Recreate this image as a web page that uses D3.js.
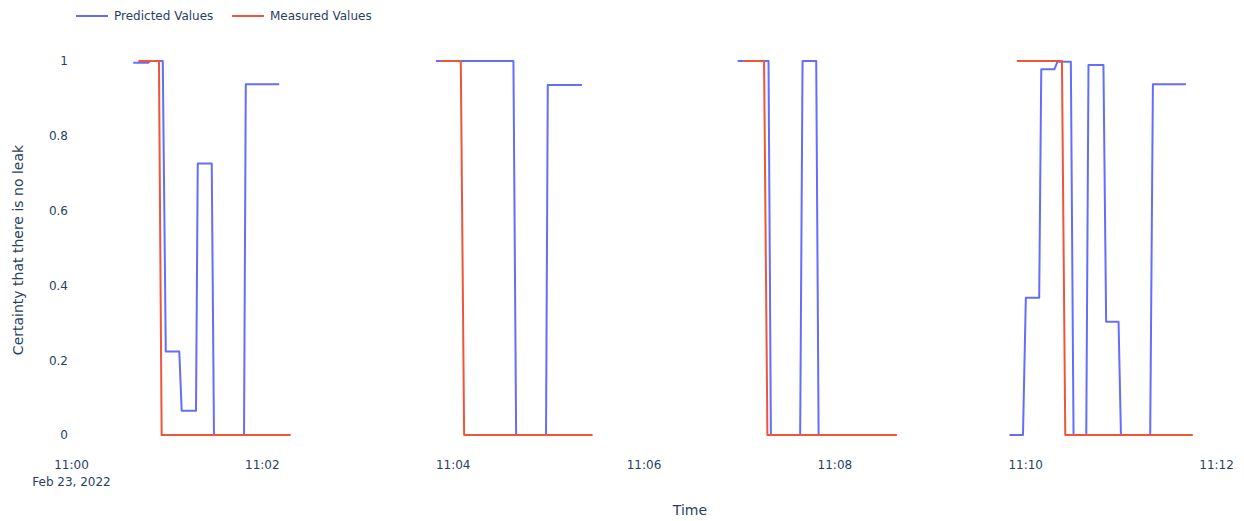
<!DOCTYPE html>
<html>
<head>
<meta charset="utf-8">
<script src="https://cdn.jsdelivr.net/npm/d3@7"></script>
<style>
  html, body { margin: 0; padding: 0; background: #fff; }
  svg { display: block; }
  text { font-family: "DejaVu Sans", Verdana, sans-serif; fill: #2a3f5f; }
</style>
</head>
<body>
<svg id="chart" width="1244" height="521"></svg>
<script>
// ---- Data ----
const seriesNames = ["Predicted Values", "Measured Values"];
const seriesColors = ["#636efa", "#EF553B"];

const predictedTimes = [
  "11:00:39.6","11:00:48.4","11:00:50.0","11:00:57.7","11:00:59.6","11:01:08.1","11:01:09.6","11:01:18.6","11:01:19.7","11:01:28.5","11:01:29.9","11:01:48.8","11:01:49.9","11:02:10.4", null,
  "11:03:50.0","11:04:38.2","11:04:39.9","11:04:58.7","11:04:59.8","11:05:20.8", null,
  "11:06:59.7","11:07:18.6","11:07:20.1","11:07:38.5","11:07:40.0","11:07:48.6","11:07:50.1","11:08:32.0", null,
  "11:09:50.6","11:09:58.6","11:10:00.4","11:10:08.8","11:10:10.1","11:10:18.4","11:10:20.3","11:10:28.7","11:10:30.4","11:10:38.4","11:10:39.8","11:10:49.2","11:10:50.9","11:10:58.7","11:11:00.2","11:11:18.6","11:11:20.3","11:11:40.6"
];
const predictedValues = [
  0.995,0.995,1,1,0.223,0.223,0.065,0.065,0.726,0.726,0,0,0.938,0.938, null,
  1,1,0,0,0.936,0.936, null,
  1,1,0,0,1,1,0,0, null,
  0,0,0.367,0.367,0.978,0.978,0.998,0.998,0,0,0.989,0.989,0.303,0.303,0,0,0.938,0.938
];

const measuredTimes = [
  "11:00:42.8","11:00:55.3","11:00:57.0","11:02:17.7", null,
  "11:03:53.1","11:04:05.1","11:04:07.2","11:05:27.5", null,
  "11:07:03.9","11:07:15.8","11:07:17.9","11:08:38.9", null,
  "11:09:55.2","11:10:23.1","11:10:25.2","11:11:44.9"
];
const measuredValues = [
  1,1,0,0, null,
  1,1,0,0, null,
  1,1,0,0, null,
  1,1,0,0
];

const xTickTimes = ["11:00:00","11:02:00","11:04:00","11:06:00","11:08:00","11:10:00","11:12:00"];
const xTickLabels = ["11:00","11:02","11:04","11:06","11:08","11:10","11:12"];
const xTickSubLabel = "Feb 23, 2022";
const yTickValues = [0, 0.2, 0.4, 0.6, 0.8, 1];
const yTickLabels = ["0", "0.2", "0.4", "0.6", "0.8", "1"];
const xTitle = "Time";
const yTitle = "Certainty that there is no leak";
const xDomain = ["11:00:00", "11:13:00"];

// ---- Helpers ----
function parseT(s) {
  if (s === null) return null;
  const [h, m, sec] = s.split(":");
  const secs = parseFloat(sec);
  const whole = Math.floor(secs);
  const ms = Math.round((secs - whole) * 1000);
  return new Date(2022, 1, 23, +h, +m, whole, ms);
}

// ---- Layout ----
const svg = d3.select("#chart");
const left = 71, pxPerMin = 95.42;
const x = d3.scaleTime()
  .domain(xDomain.map(parseT))
  .range([left, left + 13 * pxPerMin]);
const y = d3.scaleLinear().domain([0, 1]).range([435, 61]);

// X axis
const xAxis = svg.append("g")
  .attr("transform", "translate(0,460)")
  .call(d3.axisBottom(x)
    .tickValues(xTickTimes.map(parseT))
    .tickFormat((d, i) => xTickLabels[i])
    .tickSize(0).tickPadding(0));
xAxis.select(".domain").remove();
xAxis.selectAll("text").style("font-size", "12px").attr("font-family", null);
xAxis.selectAll(".tick").filter((d, i) => i === 0)
  .append("text")
  .attr("y", 0).attr("dy", "2.13em")
  .attr("text-anchor", "middle")
  .style("font-size", "12px")
  .text(xTickSubLabel);

// Y axis
const yAxis = svg.append("g")
  .attr("transform", `translate(${left},0)`)
  .call(d3.axisLeft(y)
    .tickValues(yTickValues)
    .tickFormat((d, i) => yTickLabels[i])
    .tickSize(0).tickPadding(3));
yAxis.select(".domain").remove();
yAxis.selectAll("text").style("font-size", "12px");

// Titles
svg.append("text")
  .attr("x", 690).attr("y", 515)
  .attr("text-anchor", "middle")
  .style("font-size", "14px")
  .text(xTitle);
svg.append("text")
  .attr("transform", "translate(23,250) rotate(-90)")
  .attr("text-anchor", "middle")
  .style("font-size", "14px")
  .text(yTitle);

// Lines
const series = [
  predictedTimes.map((t, i) => ({ t: parseT(t), v: predictedValues[i] })),
  measuredTimes.map((t, i) => ({ t: parseT(t), v: measuredValues[i] }))
];
const line = d3.line()
  .defined(d => d.t !== null && d.v !== null)
  .x(d => x(d.t))
  .y(d => y(d.v));

svg.append("g").selectAll("path")
  .data(series)
  .join("path")
  .attr("d", line)
  .attr("fill", "none")
  .attr("stroke", (d, i) => seriesColors[i])
  .attr("stroke-width", 2)
  .attr("stroke-linejoin", "round")
  .attr("stroke-linecap", "round");

// Legend
const legendX = [76, 232];
const legend = svg.append("g");
seriesNames.forEach((name, i) => {
  const g = legend.append("g").attr("transform", `translate(${legendX[i]},16)`);
  g.append("line")
    .attr("x1", 0).attr("x2", 32).attr("y1", 0).attr("y2", 0)
    .attr("stroke", seriesColors[i]).attr("stroke-width", 2);
  g.append("text")
    .attr("x", 38).attr("y", 0).attr("dy", "0.35em")
    .style("font-size", "12px")
    .text(name);
});
</script>
</body>
</html>
